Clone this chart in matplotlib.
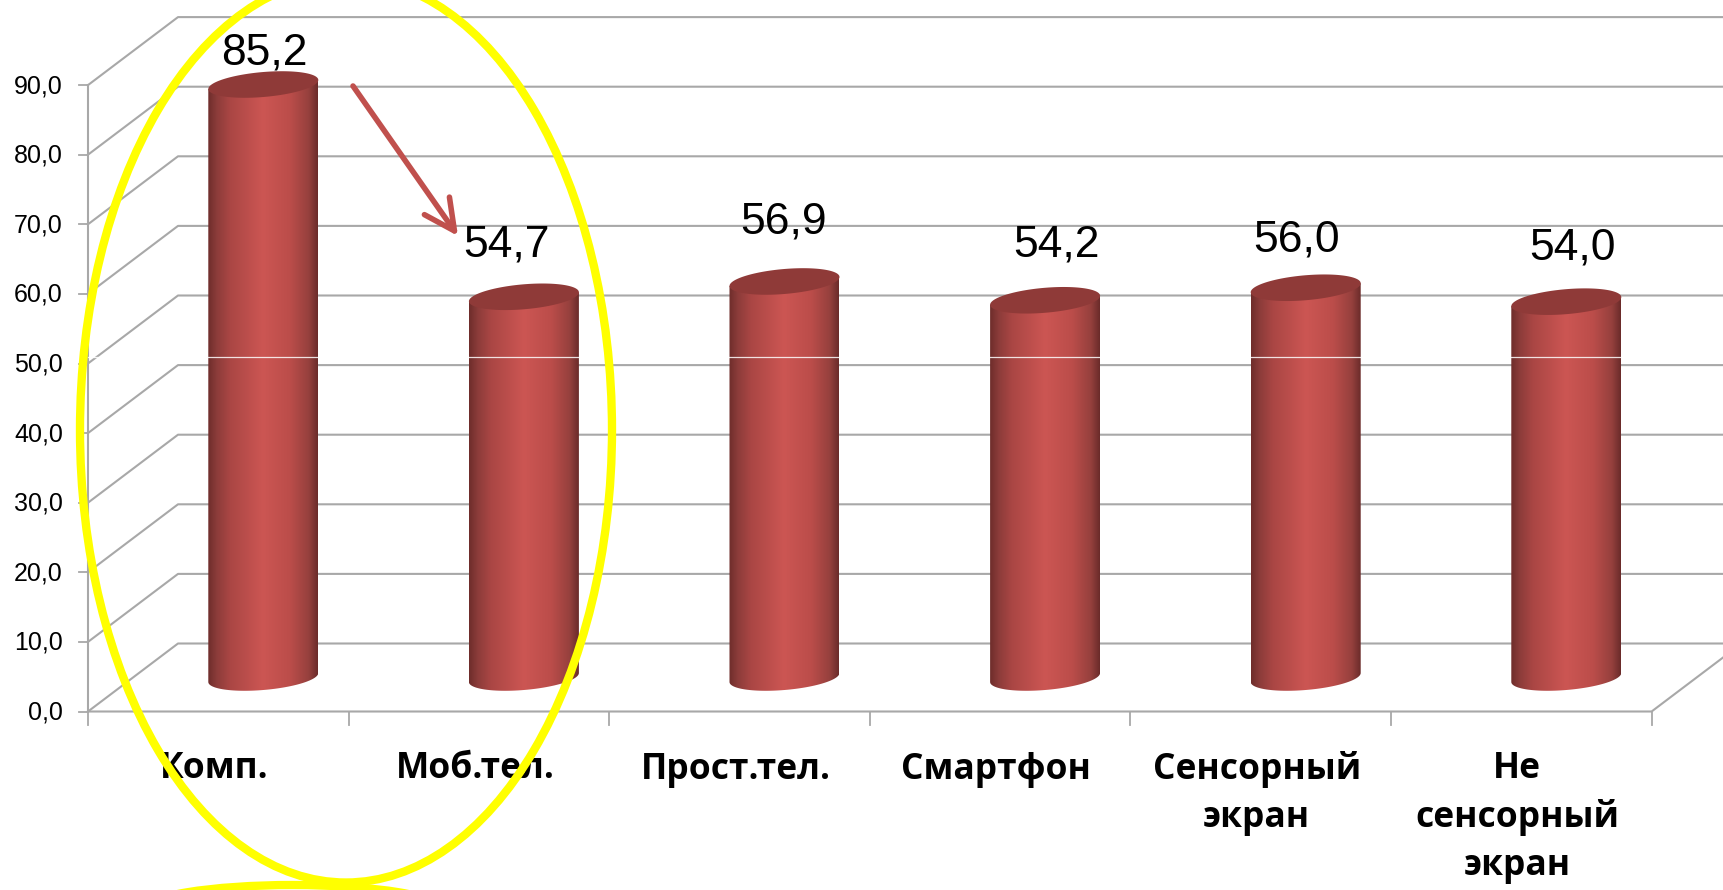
import numpy as np
import matplotlib
matplotlib.use('Agg')
import matplotlib.pyplot as plt
from matplotlib.colors import LinearSegmentedColormap
from matplotlib.patches import Ellipse, Polygon

categories = ['Комп.', 'Моб.тел.', 'Прост.тел.', 'Смартфон', 'Сенсорный\nэкран', 'Не\nсенсорный\nэкран']
values = [85.2, 54.7, 56.9, 54.2, 56.0, 54.0]
value_labels = ['85,2', '54,7', '56,9', '54,2', '56,0', '54,0']
y_ticks = [0, 10, 20, 30, 40, 50, 60, 70, 80, 90]
y_tick_labels = ['0,0', '10,0', '20,0', '30,0', '40,0', '50,0', '60,0', '70,0', '80,0', '90,0']

# hand placed data labels, pixels away from the top of each cylinder
label_dx = [1, -17, -1, 11, -9, 6]
label_dy = [35, 55, 62, 58, 51, 57]

W, H = 1724, 890
# pixels per category and per value unit, where the front floor corner sits
PX_CAT = 260.6
PX_VAL = 6.96
X0, Y0 = 88, 711.5
DEPTH_X = 90 / PX_CAT
DEPTH_Y = 68 / PX_VAL
BASE = 34 / PX_VAL

GRID = '#a8a8a8'
CAP = '#8f3a38'
shade = LinearSegmentedColormap.from_list('cyl', [
    (0.0, '#6e2d2b'), (0.08, '#8c3c3a'), (0.2, '#aa4644'), (0.5, '#cc5653'),
    (0.75, '#bb4d4a'), (0.92, '#95403d'), (1.0, '#6a2b2a')])

fig = plt.figure(figsize=(W / 100, H / 100), dpi=100)
ax = fig.add_axes([0, 0, 1, 1])
ax.axis('off')
xlim = (-0.5 - X0 / PX_CAT, -0.5 + (W - X0) / PX_CAT)
ylim = (-(H - Y0) / PX_VAL, Y0 / PX_VAL)

left, right = -0.5, 5.5

# walls and floor of the 3d box
for v in y_ticks:
    ax.plot([left - 9 / PX_CAT, left], [v, v], color=GRID, lw=1.3, zorder=1)
    ax.plot([left, left + DEPTH_X, right + 2], [v, v + DEPTH_Y, v + DEPTH_Y],
            color=GRID, lw=1.5, zorder=1)
ax.plot([left, left], [0, 90], color=GRID, lw=1.5, zorder=1)
ax.plot([left, right, right + DEPTH_X], [0, 0, DEPTH_Y], color=GRID, lw=1.5, zorder=1)
for k in range(7):
    ax.plot([left + k, left + k], [0, -13 / PX_VAL], color=GRID, lw=1.3, zorder=1)

for v, s in zip(y_ticks, y_tick_labels):
    ax.text(left - 25 / PX_CAT, v - 1 / PX_VAL, s, ha='right', va='center', fontsize=18,
            family='Liberation Sans', color='black', zorder=2)

for i, s in enumerate(categories):
    ax.text(i - 4 / PX_CAT, -40 / PX_VAL, s, ha='center', va='top', fontsize=25.5,
            family='Open Sans', fontweight='bold', linespacing=1.42, color='black', zorder=2)

# cylinders: half width and cap ellipse, tilted a little upward to the right
half_w = 55 / PX_CAT
ry = 12.5 / PX_VAL
tilt = 4.5 / PX_VAL
t = np.linspace(0, 2 * np.pi, 121)
gradient = np.linspace(0, 1, 256).reshape(1, -1)

for i, v in enumerate(values):
    cx = i + DEPTH_X / 2
    top = BASE + v
    ex = half_w * np.cos(t)
    ey = ry * np.sin(t) + tilt * np.cos(t)
    lower = t >= np.pi
    body_x = np.concatenate([cx + ex[lower], [cx + half_w, cx - half_w]])
    body_y = np.concatenate([BASE + ey[lower], [top + tilt, top - tilt]])
    clip = Polygon(np.column_stack([body_x, body_y]), closed=True, transform=ax.transData,
                   facecolor='none', edgecolor='none')
    ax.add_patch(clip)
    im = ax.imshow(gradient, extent=[cx - half_w, cx + half_w, BASE - 3, top + 3], aspect='auto',
                   cmap=shade, interpolation='bilinear', zorder=3)
    im.set_clip_path(clip)
    ax.fill(cx + ex, top + ey, color=CAP, lw=0, zorder=4)
    ax.text(cx + label_dx[i] / PX_CAT, top + (label_dy[i] - 3) / PX_VAL, value_labels[i],
            ha='center', va='center', fontsize=32, family='Liberation Sans',
            color='black', zorder=2.5)

# thin pale line running through the columns
ax.plot([left, right + 1], [50.9, 50.9], color='white', lw=0.9, alpha=0.85, zorder=5)

ax.set_xlim(xlim)
ax.set_ylim(ylim)

# hand drawn marks on top, in pixels
over = fig.add_axes([0, 0, 1, 1], facecolor='none')
over.axis('off')
over.set_xlim(0, W)
over.set_ylim(H, 0)
over.add_patch(Ellipse((346, 430), 532, 905, fill=False, edgecolor='#ffff00', lw=6))
over.add_patch(Ellipse((293, 910), 300, 50, fill=False, edgecolor='#ffff00', lw=6))
over.annotate('', xy=(458, 236), xytext=(353, 86),
              arrowprops=dict(arrowstyle='->,head_length=1.0,head_width=0.5', color='#c0504d',
                              lw=4, mutation_scale=22, shrinkA=0, shrinkB=0))

fig.savefig('out.png', dpi=100, facecolor='white')
